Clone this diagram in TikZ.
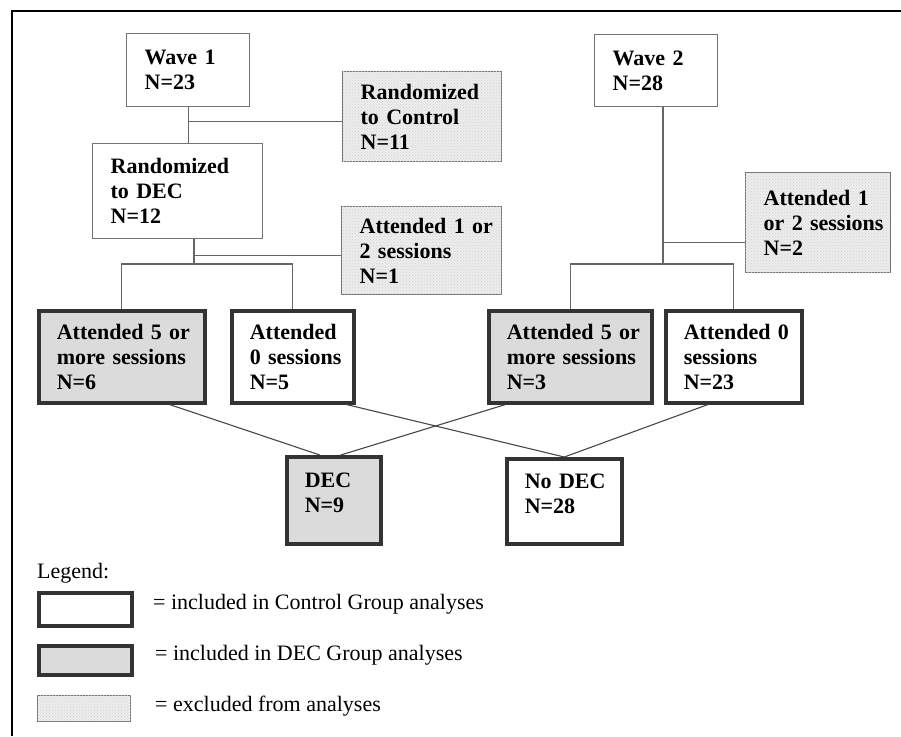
\documentclass[tikz,border=0pt]{standalone}
\usepackage{fontspec}
\setmainfont{Liberation Serif}
\usetikzlibrary{patterns}

\tikzset{
    box/.style={rectangle, anchor=north west, align=left, inner xsep=4pt,
        execute at begin node={\leftskip=14pt}, font=\fontsize{22}{25}\selectfont\bfseries},
    thinbox/.style={box, draw=black!55, line width=1.3pt},
    whitebox/.style={box, draw=black!80, line width=3.6pt, fill=white},
    graybox/.style={whitebox, fill=black!14},
    speckbox/.style={thinbox, fill=black!7, postaction={pattern=crosshatch dots, pattern color=black!18}},
    link/.style={draw=black!60, line width=1.2pt},
    cross/.style={draw=black!72, line width=1.1pt},
    legtext/.style={anchor=west, inner sep=0pt, font=\fontsize{22}{25}\selectfont}
}

\begin{document}
\begin{tikzpicture}[x=1pt,y=-1pt]
    \useasboundingbox (0,0) rectangle (901,736);
    \draw[line width=2pt] (12,736) -- (12,11) -- (901,11);

    \node[thinbox, text width=115pt, minimum height=73pt] (w1) at (126,33) {Wave 1\\N=23};
    \node[speckbox, text width=151pt, minimum height=90pt] (rc) at (342,71) {Randomized\\to Control\\N=11};
    \node[thinbox, text width=162pt, minimum height=95pt] (r1) at (92,143) {Randomized\\to DEC\\N=12};
    \node[speckbox, text width=152pt, minimum height=88pt] (x1) at (341,206) {Attended 1 or\\2 sessions\\N=1};
    \node[thinbox, text width=115pt, minimum height=72pt] (w2) at (594,34) {Wave 2\\N=28};
    \node[speckbox, text width=137pt, minimum height=100pt] (x2) at (745,172) {Attended 1\\or 2 sessions\\N=2};

    \node[graybox, text width=158pt, minimum height=92pt] (a5l) at (37,309) {Attended 5 or\\more sessions\\N=6};
    \node[whitebox, text width=114pt, minimum height=92pt] (a0l) at (230,309) {Attended\\0 sessions\\N=5};
    \node[graybox, text width=155pt, minimum height=92pt] (a5r) at (487,309) {Attended 5 or\\more sessions\\N=3};
    \node[whitebox, text width=128pt, minimum height=92pt] (a0r) at (664,309) {Attended 0\\sessions\\N=23};

    \node[graybox, text width=86pt, minimum height=87pt, text depth=41pt] (dec) at (285,455) {DEC\\N=9};
    \node[whitebox, text width=107pt, minimum height=85pt, text depth=41pt] (nodec) at (505,457) {No DEC\\N=28};

    \draw[link] (w1.south) -- (w1.south |- r1.north);
    \coordinate (k1) at ([yshift=-5pt]rc.west);
    \draw[link] (w1.south |- k1) -- (k1);
    \coordinate (j1) at (194,264);
    \draw[link] (r1.south -| j1) -- (j1);
    \coordinate (k2) at ([yshift=-5pt]x1.west);
    \draw[link] (j1 |- k2) -- (k2);
    \draw[link] (a5l.north) -- (a5l.north |- j1) -- (a0l.north |- j1) -- (a0l.north);

    \coordinate (j2) at (663,264);
    \draw[link] (w2.south -| j2) -- (j2);
    \coordinate (k3) at ([yshift=-20pt]x2.west);
    \draw[link] (j2 |- k3) -- (k3);
    \draw[link] (a5r.north) -- (a5r.north |- j2) -- (a0r.north |- j2) -- (a0r.north);

    \draw[cross] ([xshift=48pt]a5l.south) -- ([xshift=-14pt]dec.north);
    \draw[cross] ([xshift=54pt]a0l.south) -- (nodec.north);
    \draw[cross] ([xshift=-65pt]a5r.south) -- ([xshift=7pt]dec.north);
    \draw[cross] ([xshift=-26pt]a0r.south) -- (nodec.north);

    \node[legtext] (legend) at (37,573) {Legend:};
    \node[whitebox, minimum width=93pt, minimum height=33pt, inner sep=0pt] (lw) at (37,591) {};
    \node[graybox, minimum width=93pt, minimum height=29pt, inner sep=0pt] (lg) at (37,644) {};
    \node[speckbox, minimum width=93pt, minimum height=26pt, inner sep=0pt] (ls) at (37,695) {};
    \node[legtext] (lwt) at (153,604) {= included in Control Group analyses};
    \node[legtext] (lgt) at (155,655) {= included in DEC Group analyses};
    \node[legtext] (lst) at (155,706) {= excluded from analyses};
\end{tikzpicture}
\end{document}
